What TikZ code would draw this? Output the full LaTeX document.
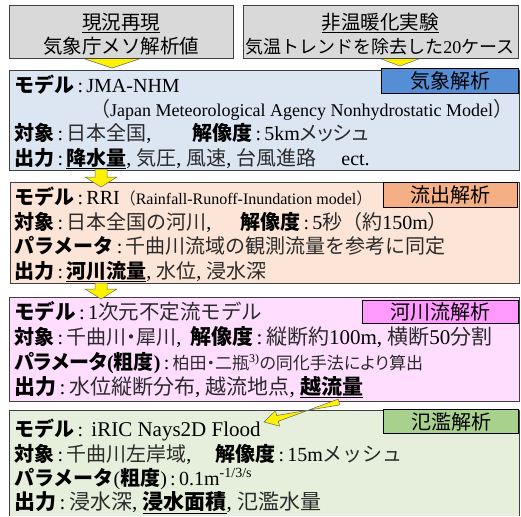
\documentclass[tikz,border=0pt]{standalone}
\usepackage{fontspec}
\setmainfont{Liberation Serif}
\newfontfamily\jpfont{Noto Sans CJK JP}
\newfontfamily\jpp{Noto Sans CJK JP}[RawFeature={+palt}]
\usetikzlibrary{calc}
\definecolor{jgray}{HTML}{2B2B2B}
\newcommand\jr[1]{{\jpfont\color{jgray}#1}}
\newcommand\jb[1]{{\jpfont\bfseries #1}}
\newcommand\pr[1]{{\jpp\color{jgray}#1}}
\newcommand\pb[1]{{\jpp\bfseries #1}}
\newcommand\undl[1]{\underline{#1}}
\newcommand\cl{\,:\,}
\definecolor{topgray}{HTML}{D9D9D9}
\definecolor{cAfill}{HTML}{DCE6F2}
\definecolor{cAtag}{HTML}{558ED5}
\definecolor{cBfill}{HTML}{FCE4D6}
\definecolor{cBtag}{HTML}{F4B084}
\definecolor{cCfill}{HTML}{FFDDFF}
\definecolor{cCtag}{HTML}{FF99FF}
\definecolor{cDfill}{HTML}{E6EFDC}
\definecolor{cDtag}{HTML}{A9D18E}
\begin{document}
\begin{tikzpicture}[x=1pt,y=-1pt,
  txt/.style={anchor=base west, inner sep=0pt, font=\fontsize{20}{24}\selectfont},
  toptxt/.style={anchor=base, inner sep=0pt, font=\jpfont\fontsize{19.5}{22}\selectfont},
  panel/.style={draw=black!75, line width=0.8pt, anchor=north west, inner sep=0pt},
  tag/.style={draw=black, line width=1.2pt, anchor=north west, inner sep=0pt, font=\jpfont\fontsize{20}{24}\selectfont},
  yarrow/.style={fill=yellow, draw=black!60, line width=0.5pt, line join=miter}]
\useasboundingbox (0,0) rectangle (521,516);

% panels
\node[panel, fill=cAfill, minimum width=510pt, minimum height=100pt] (b1) at (9,70) {};
\node[panel, fill=cBfill, minimum width=509pt, minimum height=101pt] (b2) at (10,182) {};
\node[panel, fill=cCfill, minimum width=510pt, minimum height=104pt] (b3) at (9,297) {};
\node[anchor=north west, inner sep=0pt, fill=cDfill, minimum width=510pt, minimum height=106pt] (b4) at (9,410) {};
\draw[draw=black!75, line width=0.8pt] (b4.south west) -- (b4.north west) -- (b4.north east) -- (b4.south east);

% top triangles
\draw[yarrow] (79,57) -- (145,57) -- (112,68) -- cycle;
\draw[yarrow] (376,57) -- (424,57) -- (400,66) -- cycle;

% top boxes
\node[panel, fill=topgray, minimum width=224pt, minimum height=53pt] (g1) at (9,5) {};
\node[panel, fill=topgray, minimum width=275pt, minimum height=53pt] (g2) at (243,5) {};
\node[toptxt] (g1a) at (121,29.5) {\undl{現況再現}};
\node[toptxt] (g1b) at (121,54) {気象庁メソ解析値};
\node[toptxt] (g2a) at (380,29.5) {\undl{非温暖化実験}};
\node[toptxt, font=\jpfont\fontsize{18}{22}\selectfont] (g2b) at (380,54) {気温トレンドを除去した{\rmfamily 20}ケース};

% tags
\node[tag, fill=cAtag, minimum width=137pt, minimum height=25pt] (t1) at (381,68) {気象解析};
\node[tag, fill=cBtag, minimum width=134pt, minimum height=25pt] (t2) at (383,182) {流出解析};
\node[tag, fill=cCtag, minimum width=156pt, minimum height=23pt] (t3) at (362,300) {河川流解析};
\node[tag, fill=cDtag, minimum width=135pt, minimum height=24pt] (t4) at (383,409) {氾濫解析};

% box 1 text
\node[txt] (a1) at (14,92.5) {\jb{モデル}\cl JMA-NHM};
\node[txt] (a2) at (90,116.5) {\jr{（}{\fontsize{18}{20}\selectfont Japan Meteorological Agency Nonhydrostatic Model}\jr{）}};
\node[txt] (a3) at (14,140.5) {\jb{対象}\cl\jr{日本全国}, };
\node[txt] (a3b) at (192,140.5) {\jb{解像度}\cl 5km\pr{メッシュ}};
\node[txt] (a4) at (14,165) {\jb{出力}\cl\jb{\undl{降水量}}, \jr{気圧}, \jr{風速}, \jr{台風進路}\quad\ ect.};

% box 2 text
\node[txt] (c1) at (14,204) {\jb{モデル}\cl RRI{\fontsize{16}{18}\selectfont\jr{（}Rainfall-Runoff-Inundation model\jr{）}}};
\node[txt] (c2) at (14,229) {\jb{対象}\cl\jr{日本全国の河川}, };
\node[txt] (c2b) at (240,229) {\jb{解像度}\cl 5\jr{秒（約}150m\jr{）}};
\node[txt] (c3) at (14,253.5) {\jb{パラメータ}\cl\jr{千曲川流域の観測流量を参考に同定}};
\node[txt] (c4) at (14,278) {\jb{出力}\cl\jb{\undl{河川流量}}, \jr{水位}, \jr{浸水深}};

% box 3 text
\node[txt, font=\fontsize{20.5}{24}\selectfont] (d1) at (14,319) {\jb{モデル}\cl 1\jr{次元不定流モデル}};
\node[txt] (d2) at (14,344) {\jb{対象}\cl\jr{千曲川}\pr{・}\jr{犀川}, };
\node[txt, font=\fontsize{21}{24}\selectfont] (d2b) at (190,344) {\jb{解像度}\cl\jr{縦断約}100m, \jr{横断}50\jr{分割}};
\node[txt] (d3) at (14,369) {\pb{パラメータ}\textbf{(}\pb{粗度}\textbf{)}\cl{\fontsize{17}{22}\selectfont\pr{柏田・二瓶}\textsuperscript{3)}\pr{の同化手法により算出}}};
\node[txt, font=\fontsize{21}{24}\selectfont] (d4) at (14,394) {\jb{出力}\cl\jr{水位縦断分布}, \jr{越流地点}, \jb{\undl{越流量}}};

% box 4 text
\node[txt] (e1) at (14,436) {\jb{モデル}\cl\ {\fontsize{21}{24}\selectfont iRIC Nays2D Flood}};
\node[txt] (e2) at (14,461) {\jb{対象}\cl\jr{千曲川左岸域}, };
\node[txt] (e2b) at (215,461) {\jb{解像度}\cl 15m\jr{メッシュ}};
\node[txt] (e3) at (14,485.5) {\jb{パラメータ}(\jb{粗度})\cl 0.1m\textsuperscript{-1/3/s}};
\node[txt, font=\fontsize{21}{24}\selectfont] (e4) at (14,509.5) {\jb{出力}\cl\jr{浸水深}, \jb{\undl{浸水面積}}, \jr{氾濫水量}};

% block arrows
\draw[yarrow] (95,169) -- (107,169) -- (107,177) -- (117,177) -- (101,187) -- (85,177) -- (95,177) -- cycle;
\draw[yarrow] (95,283) -- (107,283) -- (107,289) -- (117,289) -- (101,299) -- (85,289) -- (95,289) -- cycle;

\coordinate (S) at (339,402);
\coordinate (T) at (264,422);
\coordinate (H) at ($(T)!14pt!(S)$);
\draw[yarrow] ($(S)!3pt!90:(T)$) -- ($(H)!3pt!-90:(T)$) -- ($(H)!8pt!-90:(T)$) -- (T)
  -- ($(H)!8pt!90:(T)$) -- ($(H)!3pt!90:(T)$) -- ($(S)!3pt!-90:(T)$) -- cycle;
\end{tikzpicture}
\end{document}
